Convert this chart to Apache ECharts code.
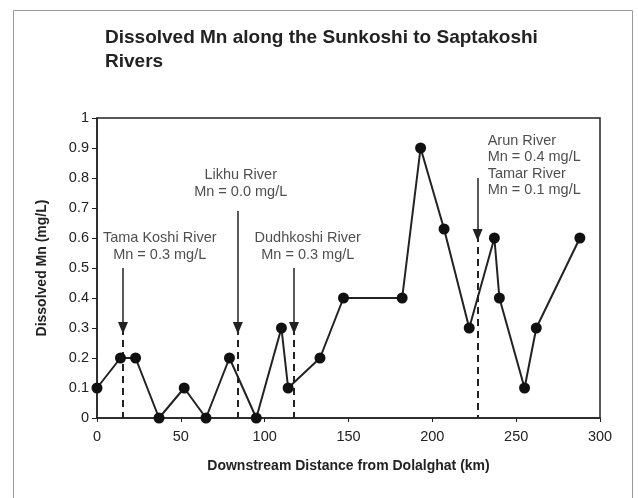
<!DOCTYPE html>
<html>
<head>
<meta charset="utf-8">
<script src="https://cdn.jsdelivr.net/npm/echarts@6/dist/echarts.min.js"></script>
<style>
html,body{margin:0;padding:0;background:#fff;}
#chart{width:638px;height:498px;}
</style>
</head>
<body>
<div id="chart"></div>
<script>
// Data
const distanceKm = [0, 14, 23, 37, 52, 65, 79, 95, 110, 114, 133, 147, 182, 193, 207, 222, 237, 240, 255, 262, 288];
const mnValues   = [0.1, 0.2, 0.2, 0, 0.1, 0, 0.2, 0, 0.3, 0.1, 0.2, 0.4, 0.4, 0.9, 0.63, 0.3, 0.6, 0.4, 0.1, 0.3, 0.6];

const tribNames  = ['Tama Koshi River', 'Likhu River', 'Dudhkoshi River', 'Arun River'];
const tribText   = ['Tama Koshi River\nMn = 0.3 mg/L', 'Likhu River\nMn = 0.0 mg/L', 'Dudhkoshi River\nMn = 0.3 mg/L', 'Arun River\nMn = 0.4 mg/L\nTamar River\nMn = 0.1 mg/L'];
const tribX      = [15.5, 84, 117.5, 227];
const arrowTop   = [0.5, 0.69, 0.5, 0.8];
const arrowTip   = [0.30, 0.30, 0.30, 0.61];
const labelX     = [37.4, 85.7, 125.7, 233];
const labelY     = [0.572, 0.782, 0.572, 0.842];
const labelAlign = ['center', 'center', 'center', 'left'];

const xTicks = [0, 50, 100, 150, 200, 250, 300];
const yTicks = [0, 0.1, 0.2, 0.3, 0.4, 0.5, 0.6, 0.7, 0.8, 0.9, 1];

const FONT = 'Liberation Sans, Arial, sans-serif';
const chart = echarts.init(document.getElementById('chart'));

const solidArrows = tribX.map((x, i) => [
  {coord: [x, arrowTop[i]]},
  {coord: [x, arrowTip[i]]}
]);
const dashedLines = tribX.map((x, i) => [
  {coord: [x, arrowTip[i]]},
  {coord: [x, 0]}
]);

const option = {
  animation: false,
  backgroundColor: '#fff',
  title: {
    text: 'Dissolved Mn along the Sunkoshi to Saptakoshi\nRivers',
    left: 100, top: 21,
    textStyle: {fontFamily: FONT, fontSize: 19, fontWeight: 'bold', color: '#222', lineHeight: 24}
  },
  graphic: [{
    type: 'rect', left: 11, top: 8,
    shape: {width: 619, height: 500},
    style: {fill: 'none', stroke: '#999', lineWidth: 1}, silent: true
  }],
  grid: {left: 97, right: 38, top: 118, bottom: 80, show: true, borderColor: '#222', borderWidth: 1.5, backgroundColor: 'transparent'},
  xAxis: {
    type: 'value', min: 0, max: 300, interval: 50,
    name: 'Downstream Distance from Dolalghat (km)',
    nameLocation: 'middle', nameGap: 41,
    nameTextStyle: {fontFamily: FONT, fontSize: 14, fontWeight: 'bold', color: '#222'},
    axisLine: {show: true, lineStyle: {color: '#222', width: 1.5}},
    axisTick: {show: true, length: 4, lineStyle: {color: '#222'}},
    axisLabel: {fontFamily: FONT, fontSize: 14.5, color: '#222', margin: 11},
    splitLine: {show: false}
  },
  yAxis: {
    type: 'value', min: 0, max: 1, interval: 0.1,
    name: 'Dissolved Mn (mg/L)',
    nameLocation: 'middle', nameGap: 48,
    nameTextStyle: {fontFamily: FONT, fontSize: 14, fontWeight: 'bold', color: '#222'},
    axisLine: {show: true, lineStyle: {color: '#222', width: 1.5}},
    axisTick: {show: true, length: 5, lineStyle: {color: '#222'}},
    axisLabel: {fontFamily: FONT, fontSize: 14.5, color: '#222', margin: 8,
      formatter: v => String(Math.round(v * 10) / 10)},
    splitLine: {show: false}
  },
  series: [
    {
      type: 'line',
      data: distanceKm.map((d, i) => [d, mnValues[i]]),
      symbol: 'circle', symbolSize: 11,
      lineStyle: {color: '#222', width: 2},
      itemStyle: {color: '#111'},
      z: 5,
      markLine: {
        silent: true, animation: false,
        symbol: ['none', 'triangle'], symbolSize: [10, 12],
        label: {show: false},
        lineStyle: {color: '#222', width: 1.5, type: 'solid'},
        data: solidArrows
      }
    },
    {
      type: 'line', data: [], silent: true,
      markLine: {
        silent: true, animation: false,
        symbol: ['none', 'none'],
        label: {show: false},
        lineStyle: {color: '#222', width: 2, type: [7, 5]},
        data: dashedLines
      }
    },
    {
      type: 'scatter', silent: true, symbolSize: 0,
      data: tribText.map((t, i) => ({
        value: [labelX[i], labelY[i]],
        label: {
          show: true, position: 'inside', formatter: t,
          align: labelAlign[i], verticalAlign: 'middle',
          fontFamily: FONT, fontSize: 14.5, color: '#222', lineHeight: 16.5
        }
      }))
    }
  ]
};
chart.setOption(option);
</script>
</body>
</html>
